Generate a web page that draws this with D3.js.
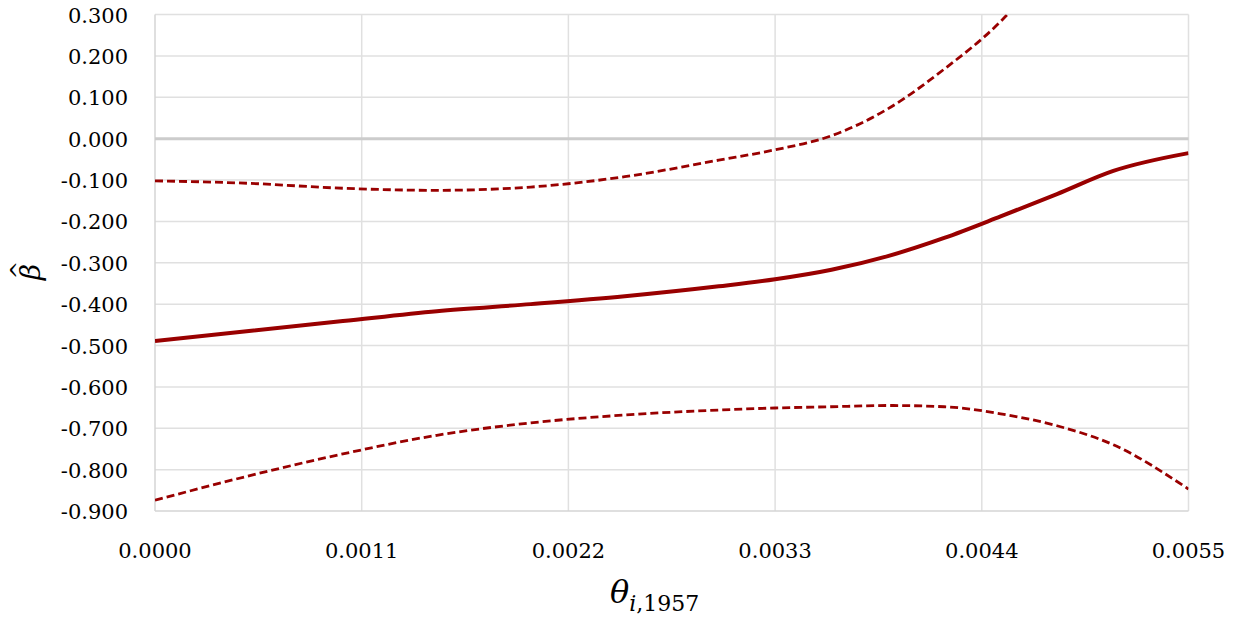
<!DOCTYPE html>
<html>
<head>
<meta charset="utf-8">
<script src="https://cdn.jsdelivr.net/npm/d3@7"></script>
<style>
  body { margin: 0; background: #fff; }
  text { font-family: "DejaVu Serif", "Liberation Serif", serif; fill: #000; }
</style>
</head>
<body>
<svg id="chart" width="1238" height="618"></svg>
<script>
// theta values (x) and the three series
const theta = [0, 0.0005, 0.0010, 0.0015, 0.0020, 0.0025, 0.0030, 0.0033, 0.0036, 0.0039, 0.0042, 0.0045, 0.0048, 0.0051, 0.0055];
const beta  = [-0.489, -0.465, -0.441, -0.417, -0.400, -0.381, -0.357, -0.340, -0.317, -0.284, -0.240, -0.188, -0.134, -0.078, -0.035];
const upper = [-0.102, -0.108, -0.120, -0.125, -0.117, -0.092, -0.052, -0.027, 0.007, 0.072, 0.168, 0.283, 0.44, 0.62, 0.9];
const lower = [-0.874, -0.815, -0.762, -0.717, -0.687, -0.668, -0.656, -0.651, -0.648, -0.645, -0.648, -0.665, -0.694, -0.740, -0.847];

const xTicks = [0, 0.0011, 0.0022, 0.0033, 0.0044, 0.0055];
const yTicks = [0.3, 0.2, 0.1, 0, -0.1, -0.2, -0.3, -0.4, -0.5, -0.6, -0.7, -0.8, -0.9];

const svg = d3.select('#chart');
const plotL = 155, plotR = 1188.5, plotT = 14.5, plotB = 511;

const x = d3.scaleLinear().domain([0, 0.0055]).range([plotL, plotR]);
const y = d3.scaleLinear().domain([-0.9, 0.3]).range([plotB, plotT]);

svg.append('defs').append('clipPath').attr('id', 'plot')
    .append('rect')
    .attr('x', plotL).attr('y', plotT)
    .attr('width', plotR - plotL).attr('height', plotB - plotT);

// gridlines
svg.append('g')
    .selectAll('line')
    .data(yTicks.filter(d => d !== 0 && d !== -0.9))
    .join('line')
    .attr('x1', plotL).attr('x2', plotR)
    .attr('y1', d => y(d)).attr('y2', d => y(d))
    .attr('stroke', '#e0e0e0').attr('stroke-width', 1.5);

svg.append('g')
    .selectAll('line')
    .data(xTicks.slice(1))
    .join('line')
    .attr('x1', d => x(d)).attr('x2', d => x(d))
    .attr('y1', plotT).attr('y2', plotB)
    .attr('stroke', '#e0e0e0').attr('stroke-width', 1.5);

// axes frame
svg.append('line')
    .attr('x1', plotL).attr('x2', plotL).attr('y1', plotT).attr('y2', plotB)
    .attr('stroke', '#d4d4d4').attr('stroke-width', 1.5);
svg.append('line')
    .attr('x1', plotL).attr('x2', plotR).attr('y1', plotB).attr('y2', plotB)
    .attr('stroke', '#d4d4d4').attr('stroke-width', 1.5);
svg.append('line')
    .attr('x1', plotL).attr('x2', plotR).attr('y1', y(0)).attr('y2', y(0))
    .attr('stroke', '#cccccc').attr('stroke-width', 3);

// tick labels
svg.append('g')
    .selectAll('text')
    .data(yTicks)
    .join('text')
    .attr('x', 128)
    .attr('y', d => y(d) + 8)
    .attr('text-anchor', 'end')
    .attr('font-size', 21)
    .text(d => d3.format('.3f')(d).replace('−', '-'));

svg.append('g')
    .selectAll('text')
    .data(xTicks)
    .join('text')
    .attr('x', d => x(d))
    .attr('y', 558)
    .attr('text-anchor', 'middle')
    .attr('font-size', 21)
    .text(d => d3.format('.4f')(d));

// series
const line = d3.line()
    .x((d, i) => x(theta[i]))
    .y(d => y(d))
    .curve(d3.curveMonotoneX);

const lines = svg.append('g').attr('clip-path', 'url(#plot)');
lines.append('path')
    .attr('d', line(upper))
    .attr('fill', 'none').attr('stroke', '#990000')
    .attr('stroke-width', 2.8).attr('stroke-dasharray', '8,4');
lines.append('path')
    .attr('d', line(lower))
    .attr('fill', 'none').attr('stroke', '#990000')
    .attr('stroke-width', 2.8).attr('stroke-dasharray', '8,4');
lines.append('path')
    .attr('d', line(beta))
    .attr('fill', 'none').attr('stroke', '#990000')
    .attr('stroke-width', 4);

// axis titles
const yt = svg.append('g').attr('transform', 'translate(40,272) rotate(-90)');
yt.append('text')
    .attr('x', 0).attr('y', 0)
    .attr('text-anchor', 'middle')
    .attr('font-size', 28).attr('font-style', 'italic')
    .text('β');
yt.append('text')
    .attr('x', 2).attr('y', -14)
    .attr('text-anchor', 'middle')
    .attr('font-size', 22)
    .text('^');

const xt = svg.append('text')
    .attr('x', 610).attr('y', 603)
    .attr('font-size', 32).attr('font-style', 'italic');
xt.append('tspan').text('θ');
xt.append('tspan').attr('font-size', 22).attr('dy', 8).text('i');
xt.append('tspan').attr('font-size', 22).attr('font-style', 'normal').text(',1957');
</script>
</body>
</html>
